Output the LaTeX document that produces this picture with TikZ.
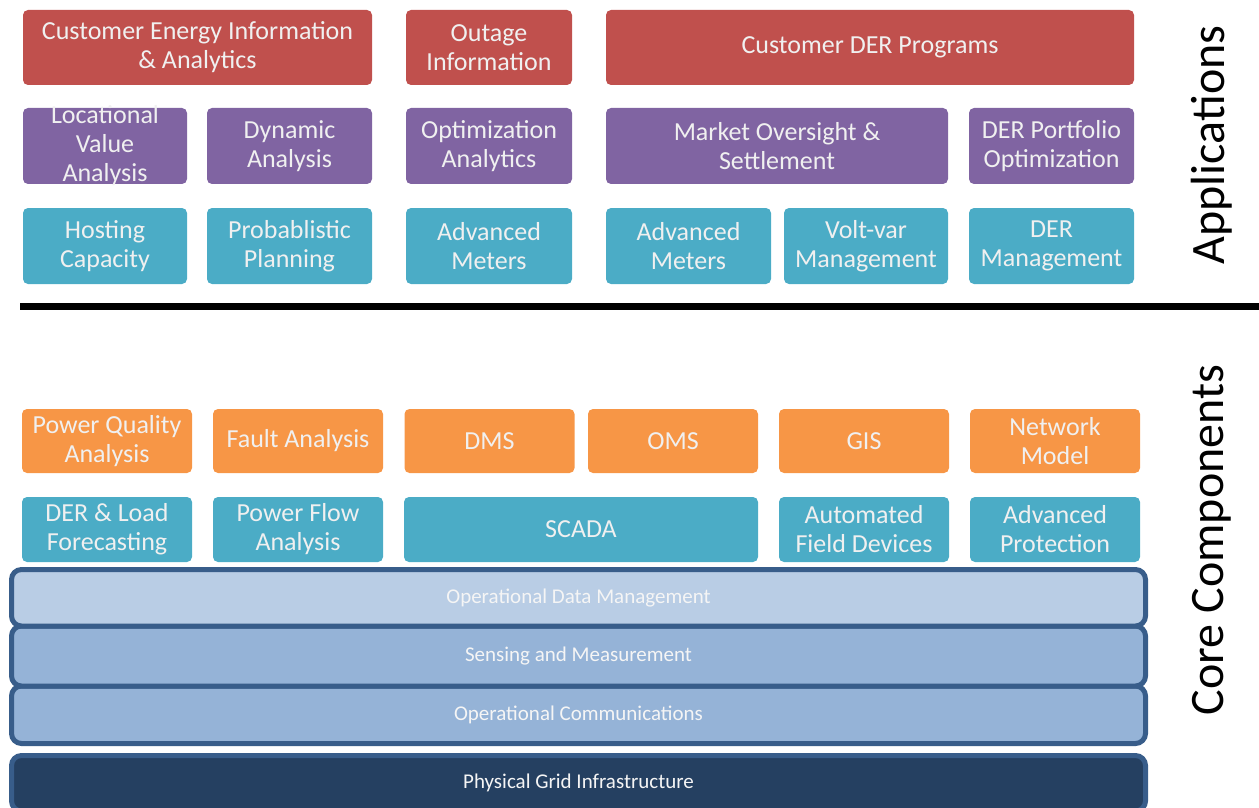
\documentclass[tikz,border=0pt]{standalone}
\usepackage{fontspec}
\setmainfont{Carlito}

\begin{document}
\begin{tikzpicture}[x=0.5pt,y=-0.5pt,
  tile/.style={rounded corners=2.5pt, inner sep=0pt, align=center,
    text=white!94!black, font=\fontsize{13}{14.5}\selectfont},
  layer/.style={draw=LayerEdge, line width=2.5pt, rounded corners=5pt,
    minimum width=567pt, inner sep=0pt, text=white!96!black,
    font=\fontsize{10.5}{12}\selectfont},
  side/.style={rotate=90, font=\fontsize{24}{28}\selectfont}]
\definecolor{AppRed}     {HTML}{C0504D}
\definecolor{AppPurple}  {HTML}{8064A2}
\definecolor{AppTeal}    {HTML}{4BACC6}
\definecolor{CoreOrange} {HTML}{F79646}
\definecolor{LayerEdge}  {HTML}{385D8A}
\definecolor{LayerLight} {HTML}{B9CDE5}
\definecolor{LayerMid}   {HTML}{95B3D7}
\definecolor{LayerDark}  {HTML}{254061}

\useasboundingbox (0,0) rectangle (1259,808);

% applications
\begin{scope}[tile/.append style={minimum height=37.5pt}]
\node[tile, fill=AppRed, minimum width=174.5pt] (cei) at (197.5,47.5) {Customer Energy Information\\\& Analytics};
\node[tile, fill=AppRed, minimum width=83pt] (outage) at (489,47.5) {Outage\\Information};
\node[tile, fill=AppRed, minimum width=264pt] (derprog) at (870,47.5) {Customer DER Programs};
\end{scope}

\begin{scope}[tile/.append style={minimum height=38pt, fill=AppPurple}]
\node[tile, minimum width=82pt,
  label={[tile, fill=none]center:Locational\\Value\\Analysis}] (lva) at (105,146) {};
\node[tile, minimum width=82.5pt] (dyn) at (289.5,146) {Dynamic\\Analysis};
\node[tile, minimum width=83pt] (optan) at (489,146) {Optimization\\Analytics};
\node[tile, minimum width=171pt] (market) at (777,146) {Market Oversight \&\\Settlement};
\node[tile, minimum width=82.5pt] (portfolio) at (1051.5,146) {DER Portfolio\\Optimization};
\end{scope}

\begin{scope}[tile/.append style={minimum height=38pt, fill=AppTeal}]
\node[tile, minimum width=82pt] (hosting) at (105,246) {Hosting\\Capacity};
\node[tile, minimum width=82.5pt] (prob) at (289.5,246) {Probablistic\\Planning};
\node[tile, minimum width=83pt] (meters1) at (489,246) {Advanced\\Meters};
\node[tile, minimum width=82.5pt] (meters2) at (688.5,246) {Advanced\\Meters};
\node[tile, minimum width=82pt] (voltvar) at (866,246) {Volt-var\\Management};
\node[tile, minimum width=82.5pt] (dermgmt) at (1051.5,246) {DER\\Management};
\end{scope}

\coordinate (sepL) at (20,306);
\coordinate (sepR) at (1259,306);
\draw[line width=3.5pt] (sepL) -- (sepR);

% core components
\begin{scope}[tile/.append style={minimum height=32pt, minimum width=85pt, fill=CoreOrange}]
\node[tile] (pq) at (107,441) {Power Quality\\Analysis};
\node[tile] (fault) at (298,441) {Fault Analysis};
\node[tile] (dms) at (489.5,441) {DMS};
\node[tile] (oms) at (673,441) {OMS};
\node[tile] (gis) at (864,441) {GIS};
\node[tile] (netmodel) at (1055,441) {Network\\Model};
\end{scope}

\begin{scope}[tile/.append style={minimum height=32.5pt, minimum width=85pt, fill=AppTeal}]
\node[tile] (forecast) at (107,529.5) {DER \& Load\\Forecasting};
\node[tile] (pflow) at (298,529.5) {Power Flow\\Analysis};
\node[tile, minimum width=177pt] (scada) at (581,529.5) {SCADA};
\node[tile] (afd) at (864,529.5) {Automated\\Field Devices};
\node[tile] (protect) at (1055,529.5) {Advanced\\Protection};
\end{scope}

\node[layer, fill=LayerDark, minimum height=27.75pt] (grid) at (578.5,783.25) {Physical Grid Infrastructure};
\node[layer, fill=LayerMid, minimum height=28.75pt] (comms) at (578.5,714.75) {Operational Communications};
\node[layer, fill=LayerMid, minimum height=30pt] (sensing) at (578.5,656) {Sensing and Measurement};
\node[layer, fill=LayerLight, minimum height=28.25pt] (odm) at (578.5,597.75) {Operational Data Management};

\node[side] (apps) at (1212,145) {Applications};
\node[side] (core) at (1212,540) {Core Components};

\end{tikzpicture}
\end{document}
